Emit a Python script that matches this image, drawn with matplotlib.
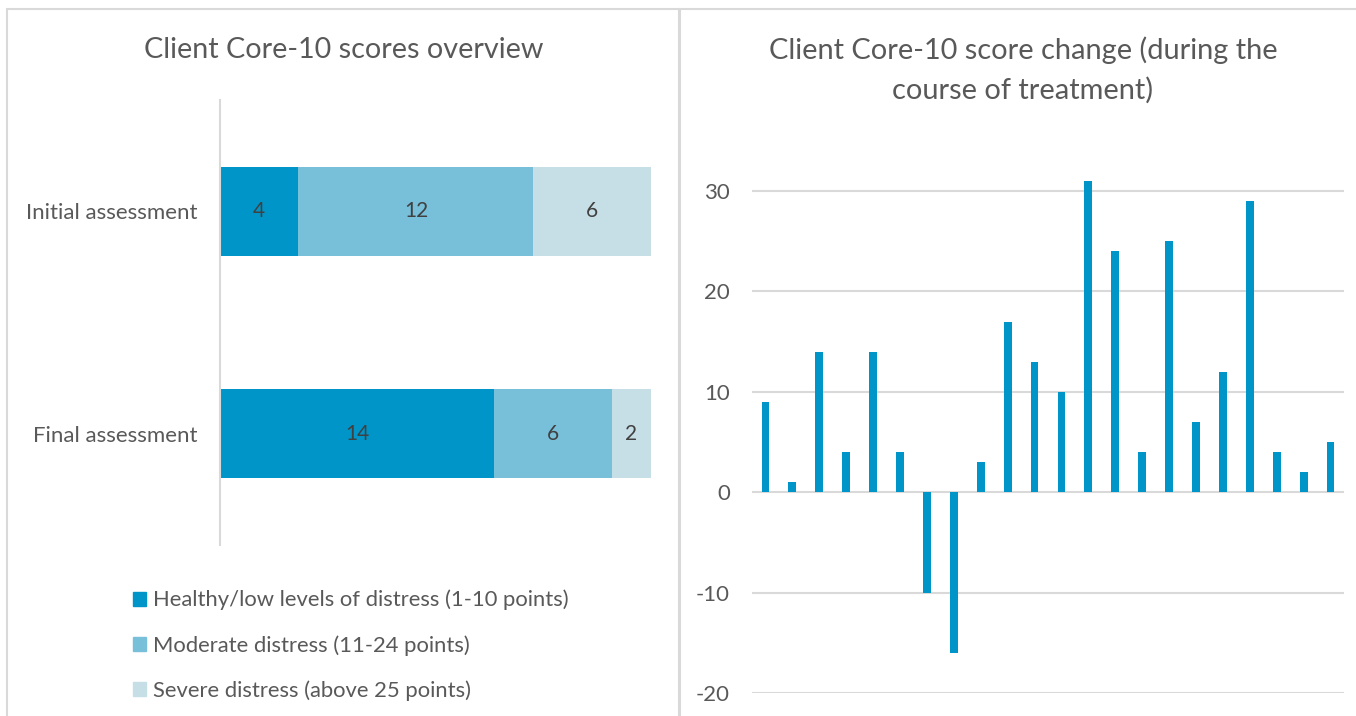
import matplotlib.pyplot as plt
from matplotlib.patches import Patch, Rectangle

plt.rcParams['font.family'] = ['Lato', 'DejaVu Sans']

# Left panel data
assessments = ['Final assessment', 'Initial assessment']
healthy = [14, 4]
moderate = [6, 12]
severe = [2, 6]
legend_labels = ['Healthy/low levels of distress (1-10 points)',
                 'Moderate distress (11-24 points)',
                 'Severe distress (above 25 points)']

# Right panel data
score_change = [9, 1, 14, 4, 14, 4, -10, -16, 3, 17, 13, 10, 31, 24, 4, 25, 7, 12, 29, 4, 2, 5]
y_ticks = [-20, -10, 0, 10, 20, 30]

c_dark = '#0095C8'
c_mid = '#78C0DA'
c_light = '#C6DEE6'
text_col = '#595959'
grid_col = '#D9D9D9'

W, H = 1356, 716
fig = plt.figure(figsize=(W / 100, H / 100), dpi=100)

# panel frames
fig.patches.append(Rectangle((7 / W, -0.05), (679 - 7) / W, (H - 9) / H + 0.05,
                             transform=fig.transFigure, fill=False, ec=grid_col, lw=1.5))
fig.patches.append(Rectangle((680 / W, -0.05), (W + 10 - 680) / W, (H - 9) / H + 0.05,
                             transform=fig.transFigure, fill=False, ec=grid_col, lw=1.5))

# ---- left: stacked horizontal bars
ax1 = fig.add_axes([220 / W, (H - 545) / H, 431 / W, 445 / H])
ypos = range(len(assessments))
segs = [(healthy, c_dark), (moderate, c_mid), (severe, c_light)]
lefts = [0] * len(assessments)
for vals, col in segs:
    bars = ax1.barh(ypos, vals, left=lefts, height=0.4, color=col)
    ax1.bar_label(bars, labels=[str(v) for v in vals], label_type='center',
                  color='#404040', fontsize=15)
    lefts = [a + b for a, b in zip(lefts, vals)]
ax1.set_xlim(0, 22)
ax1.set_ylim(-0.5, 1.5)
ax1.set_yticks(list(ypos))
ax1.set_yticklabels(assessments, fontsize=16, color=text_col)
ax1.set_xticks([])
ax1.tick_params(axis='y', length=0, pad=16)
for s in ['top', 'right', 'bottom']:
    ax1.spines[s].set_visible(False)
ax1.spines['left'].set_color(grid_col)
ax1.spines['left'].set_linewidth(1.5)

fig.text(344 / W, 1 - 50 / H, 'Client Core-10 scores overview', ha='center', va='center',
         fontsize=20.7, color=text_col)

handles = [Patch(color=c) for c in (c_dark, c_mid, c_light)]
fig.legend(handles, legend_labels, loc='upper left', bbox_to_anchor=(113 / W, 1 - 570 / H),
           frameon=False, fontsize=15.8, labelcolor=text_col, handlelength=0.6,
           handleheight=0.6, handletextpad=0.32, labelspacing=1.12)

# ---- right: score change bars
ax2 = fig.add_axes([752 / W, (H - 693) / H, 592 / W, 552.2 / H])
ax2.bar(range(len(score_change)), score_change, width=0.29, color=c_dark, zorder=3)
ax2.set_xlim(-0.5, len(score_change) - 0.5)
ax2.set_ylim(-20, 35)
ax2.set_yticks(y_ticks)
ax2.set_yticklabels([str(t) for t in y_ticks], fontsize=16, color=text_col)
ax2.tick_params(axis='y', length=0, pad=16)
ax2.set_xticks([])
ax2.grid(axis='y', color=grid_col, lw=1.5)
for s in ax2.spines.values():
    s.set_visible(False)

fig.text(1023 / W, 1 - 70 / H, 'Client Core-10 score change (during the\ncourse of treatment)',
         ha='center', va='center', fontsize=20.9, color=text_col, linespacing=1.55)

fig.savefig('out.png', dpi=100)
